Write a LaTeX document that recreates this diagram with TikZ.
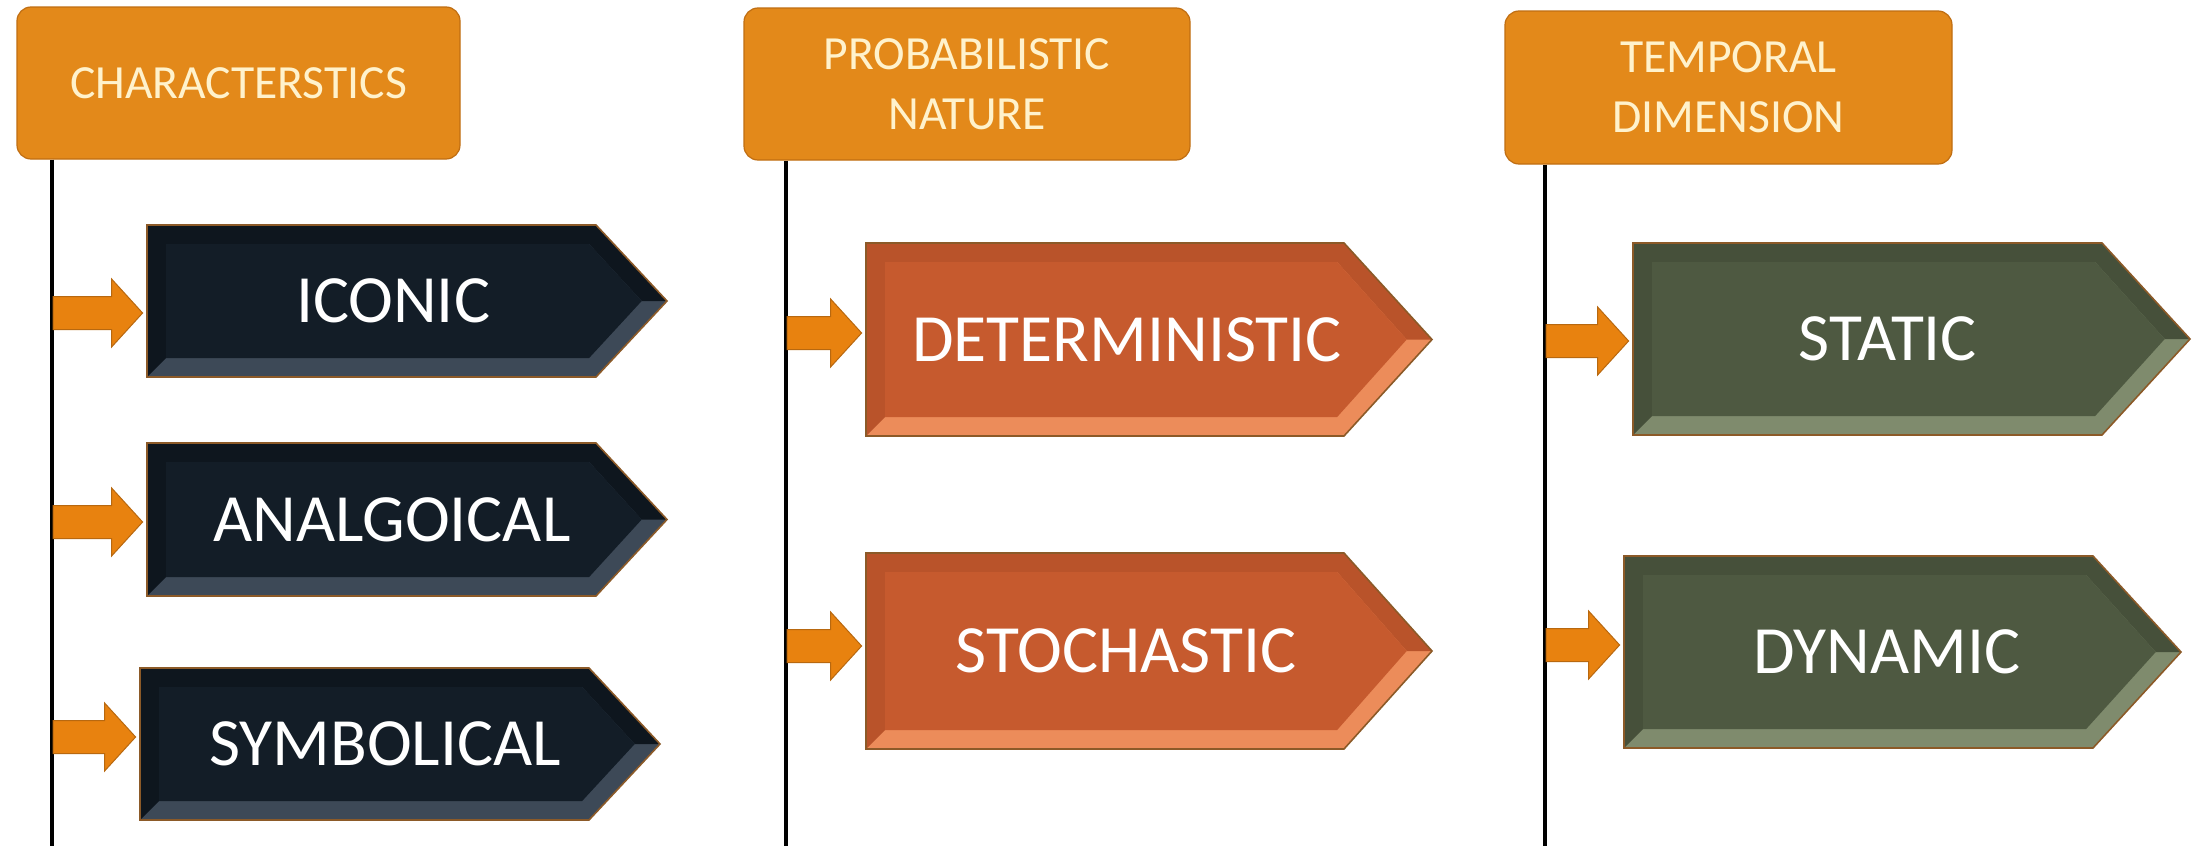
\documentclass[tikz,border=0pt]{standalone}
\usepackage{fontspec}
\setmainfont{Carlito}
\usetikzlibrary{calc}
\definecolor{hdrorange}{HTML}{E3891A}
\definecolor{hdrrim}{HTML}{C06E12}
\definecolor{hdrtext}{HTML}{FFF2CC}
\definecolor{navyface}{HTML}{131D27}
\definecolor{navylight}{HTML}{3D4957}
\definecolor{navydark}{HTML}{0E161E}
\definecolor{rustface}{HTML}{C65A2E}
\definecolor{rustlight}{HTML}{EC8C5A}
\definecolor{rustdark}{HTML}{B9532A}
\definecolor{oliveface}{HTML}{4E5941}
\definecolor{olivelight}{HTML}{7F8B6D}
\definecolor{olivedark}{HTML}{46503A}
\definecolor{arroworange}{HTML}{E8820F}
\definecolor{arrowrim}{HTML}{B8680F}
\definecolor{boxrimc}{HTML}{8C5A28}
\tikzset{
  hdr/.style={rectangle, rounded corners=7pt, fill=hdrorange, draw=hdrrim, line width=0.6pt,
    text=hdrtext, font=\fontsize{23.8}{30}\selectfont, align=center, inner sep=0pt},
  boxlabel/.style={rectangle, inner sep=0pt, text=white, font=\fontsize{33.8}{40}\selectfont},
  vline/.style={line width=1.75pt, black},
  smallarrow/.style={fill=arroworange, draw=arrowrim, line width=0.5pt, line join=miter},
  boxrim/.style={draw=boxrimc, line width=0.8pt, line join=miter},
}
% bevelled pentagon: x0, y0, x1 (body end), x2 (tip), y1, face, light, dark
\newcommand\bev[8]{%
  \pgfmathsetmacro\ym{(#2+#5)/2}%
  \pgfmathsetmacro\bw{19}%
  \fill[#7] (#1,#2) -- (#3,#2) -- (#4,\ym) -- (#3,#5) -- (#1,#5) -- cycle;
  \fill[#8] (#1,#5) -- (#1,#2) -- (#3,#2) -- (#4,\ym) -- (#4-\bw*1.33,\ym)
    -- (#3-\bw*0.36,#2+\bw) -- (#1+\bw,#2+\bw) -- (#1+\bw,#5-\bw) -- cycle;
  \fill[#6] (#1+\bw,#2+\bw) -- (#3-\bw*0.36,#2+\bw) -- (#4-\bw*1.33,\ym)
    -- (#3-\bw*0.36,#5-\bw) -- (#1+\bw,#5-\bw) -- cycle;
  \draw[boxrim] (#1,#2) -- (#3,#2) -- (#4,\ym) -- (#3,#5) -- (#1,#5) -- cycle;
}
% block arrow from a coordinate on a line to a box node
\newcommand\conn[2]{%
  \path[smallarrow] let \p1=(#1), \p2=(#2.west) in
    (\x1,\y1+8.25pt) -- (\x2-17.5pt,\y1+8.25pt) -- (\x2-17.5pt,\y1+17pt) -- (\x2-2pt,\y1)
    -- (\x2-17.5pt,\y1-17pt) -- (\x2-17.5pt,\y1-8.25pt) -- (\x1,\y1-8.25pt) -- cycle;}
\begin{document}
\begin{tikzpicture}[x=0.5pt,y=-0.5pt]
\useasboundingbox[fill=white] (0,0) rectangle (2201,846);

% headers
\node[hdr, minimum width=221.5pt, minimum height=76pt] (h1) at (238.5,83) {CHARACTERSTICS};
\node[hdr, minimum width=223pt, minimum height=76pt] (h2) at (967,84) {PROBABILISTIC\\NATURE};
\node[hdr, minimum width=223.5pt, minimum height=76.5pt] (h3) at (1728.5,87.5) {TEMPORAL\\DIMENSION};

% column 1 boxes
\bev{147}{225}{596}{667}{377}{navyface}{navylight}{navydark}
\bev{147}{443}{596}{667}{596}{navyface}{navylight}{navydark}
\bev{140}{668}{589}{660}{820}{navyface}{navylight}{navydark}
\node[boxlabel, minimum width=246pt, minimum height=76pt] (iconic) at (393,301) {ICONIC};
\node[boxlabel, minimum width=245pt, minimum height=76.5pt] (analog) at (392,519.5) {ANALGOICAL};
\node[boxlabel, minimum width=245pt, minimum height=76pt] (symb) at (385,744) {SYMBOLICAL};

% column 2 boxes
\bev{866}{243}{1344}{1432}{436}{rustface}{rustlight}{rustdark}
\bev{866}{553}{1344}{1432}{749}{rustface}{rustlight}{rustdark}
\node[boxlabel, minimum width=261pt, minimum height=96.5pt] (determ) at (1127,339.5) {DETERMINISTIC};
\node[boxlabel, minimum width=260pt, minimum height=98pt] (stoch) at (1126,651) {STOCHASTIC};

% column 3 boxes
\bev{1633}{243}{2102}{2190}{435}{oliveface}{olivelight}{olivedark}
\bev{1624}{556}{2093}{2181}{748}{oliveface}{olivelight}{olivedark}
\node[boxlabel, minimum width=255pt, minimum height=96pt] (static) at (1888,339) {STATIC};
\node[boxlabel, minimum width=263pt, minimum height=96pt] (dynamic) at (1887,652) {DYNAMIC};

% vertical lines
\coordinate (l1) at (52,846);
\coordinate (l2) at (786,846);
\coordinate (l3) at (1545,846);
\draw[vline] (h1.south -| l1) -- (l1);
\draw[vline] (h2.south -| l2) -- (l2);
\draw[vline] (h3.south -| l3) -- (l3);

% arrow start points on the lines
\coordinate (a11) at (53,313);
\coordinate (a12) at (53,522);
\coordinate (a13) at (53,737);
\coordinate (a21) at (787,333);
\coordinate (a22) at (787,646);
\coordinate (a31) at (1546,341);
\coordinate (a32) at (1546,645);
\conn{a11}{iconic}
\conn{a12}{analog}
\conn{a13}{symb}
\conn{a21}{determ}
\conn{a22}{stoch}
\conn{a31}{static}
\conn{a32}{dynamic}
\end{tikzpicture}
\end{document}
